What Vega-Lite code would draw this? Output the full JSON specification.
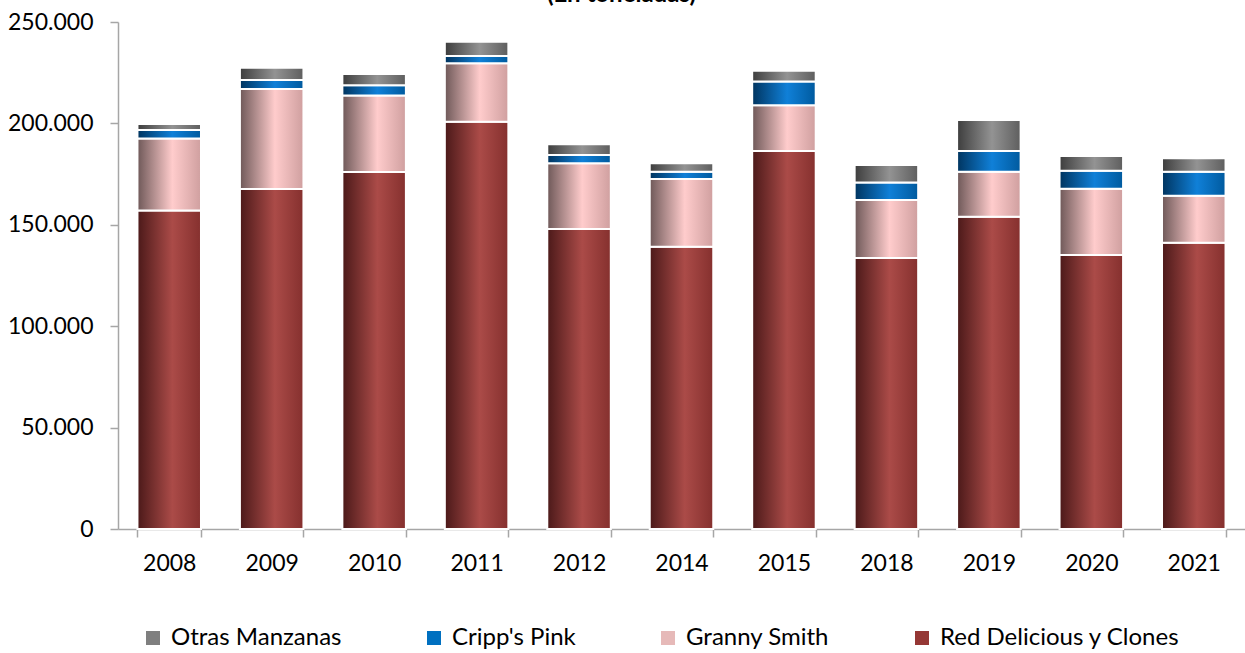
{
  "$schema": "https://vega.github.io/schema/vega-lite/v6.json",
  "width": 1127,
  "height": 507,
  "autosize": {"type": "none"},
  "padding": {"left": 118, "top": 22, "right": 0, "bottom": 124},
  "background": "white",
  "title": {"text": "(En toneladas)", "font": "Lato", "fontSize": 24, "fontWeight": "bold", "anchor": "middle", "dx": -60, "color": "black"},
  "config": {
    "locale": {"number": {"decimal": ",", "thousands": ".", "grouping": [3], "currency": ["", ""]}},
    "view": {"stroke": null},
    "axis": {"labelFont": "Lato", "labelFontSize": 23, "labelColor": "black", "domainColor": "#A6A6A6", "tickColor": "#A6A6A6", "domainWidth": 1.5, "tickWidth": 1.5, "grid": false, "title": null}
  },
  "data": {
    "values": [
      {"anio": "2008", "variedad": "Red Delicious y Clones", "toneladas": 157000},
      {"anio": "2008", "variedad": "Granny Smith", "toneladas": 35500},
      {"anio": "2008", "variedad": "Cripp's Pink", "toneladas": 4200},
      {"anio": "2008", "variedad": "Otras Manzanas", "toneladas": 3000},
      {"anio": "2009", "variedad": "Red Delicious y Clones", "toneladas": 167700},
      {"anio": "2009", "variedad": "Granny Smith", "toneladas": 49300},
      {"anio": "2009", "variedad": "Cripp's Pink", "toneladas": 4400},
      {"anio": "2009", "variedad": "Otras Manzanas", "toneladas": 6100},
      {"anio": "2010", "variedad": "Red Delicious y Clones", "toneladas": 176000},
      {"anio": "2010", "variedad": "Granny Smith", "toneladas": 37700},
      {"anio": "2010", "variedad": "Cripp's Pink", "toneladas": 5100},
      {"anio": "2010", "variedad": "Otras Manzanas", "toneladas": 5600},
      {"anio": "2011", "variedad": "Red Delicious y Clones", "toneladas": 200800},
      {"anio": "2011", "variedad": "Granny Smith", "toneladas": 28800},
      {"anio": "2011", "variedad": "Cripp's Pink", "toneladas": 3600},
      {"anio": "2011", "variedad": "Otras Manzanas", "toneladas": 7100},
      {"anio": "2012", "variedad": "Red Delicious y Clones", "toneladas": 147900},
      {"anio": "2012", "variedad": "Granny Smith", "toneladas": 32400},
      {"anio": "2012", "variedad": "Cripp's Pink", "toneladas": 4100},
      {"anio": "2012", "variedad": "Otras Manzanas", "toneladas": 5300},
      {"anio": "2014", "variedad": "Red Delicious y Clones", "toneladas": 139200},
      {"anio": "2014", "variedad": "Granny Smith", "toneladas": 33400},
      {"anio": "2014", "variedad": "Cripp's Pink", "toneladas": 3600},
      {"anio": "2014", "variedad": "Otras Manzanas", "toneladas": 4100},
      {"anio": "2015", "variedad": "Red Delicious y Clones", "toneladas": 186400},
      {"anio": "2015", "variedad": "Granny Smith", "toneladas": 22500},
      {"anio": "2015", "variedad": "Cripp's Pink", "toneladas": 11700},
      {"anio": "2015", "variedad": "Otras Manzanas", "toneladas": 5400},
      {"anio": "2018", "variedad": "Red Delicious y Clones", "toneladas": 133600},
      {"anio": "2018", "variedad": "Granny Smith", "toneladas": 28600},
      {"anio": "2018", "variedad": "Cripp's Pink", "toneladas": 8600},
      {"anio": "2018", "variedad": "Otras Manzanas", "toneladas": 8700},
      {"anio": "2019", "variedad": "Red Delicious y Clones", "toneladas": 154000},
      {"anio": "2019", "variedad": "Granny Smith", "toneladas": 22200},
      {"anio": "2019", "variedad": "Cripp's Pink", "toneladas": 10200},
      {"anio": "2019", "variedad": "Otras Manzanas", "toneladas": 15300},
      {"anio": "2020", "variedad": "Red Delicious y Clones", "toneladas": 135100},
      {"anio": "2020", "variedad": "Granny Smith", "toneladas": 32700},
      {"anio": "2020", "variedad": "Cripp's Pink", "toneladas": 8900},
      {"anio": "2020", "variedad": "Otras Manzanas", "toneladas": 7200},
      {"anio": "2021", "variedad": "Red Delicious y Clones", "toneladas": 141200},
      {"anio": "2021", "variedad": "Granny Smith", "toneladas": 23100},
      {"anio": "2021", "variedad": "Cripp's Pink", "toneladas": 11900},
      {"anio": "2021", "variedad": "Otras Manzanas", "toneladas": 6600}
    ]
  },
  "transform": [
    {"calculate": "indexof(['Red Delicious y Clones', 'Granny Smith', 'Cripp\\'s Pink', 'Otras Manzanas'], datum.variedad)", "as": "orden"},
    {"stack": "toneladas", "groupby": ["anio"], "sort": [{"field": "orden", "order": "ascending"}], "as": ["y0", "y1"]}
  ],
  "encoding": {
    "x": {"field": "anio", "type": "ordinal", "scale": {"paddingInner": 0.38, "paddingOuter": 0.19},
      "axis": {"labelAngle": 0, "tickBand": "extent", "tickSize": 8, "labelPadding": 15}},
    "y": {"field": "y0", "type": "quantitative", "scale": {"domain": [0, 250000], "nice": false},
      "axis": {"values": [0, 50000, 100000, 150000, 200000, 250000], "format": ",d", "tickSize": 8, "labelPadding": 17}},
    "y2": {"field": "y1"}
  },
  "layer": [
    {
      "mark": {"type": "bar"},
      "encoding": {
        "color": {"field": "variedad", "type": "nominal",
          "scale": {"domain": ["Otras Manzanas", "Cripp's Pink", "Granny Smith", "Red Delicious y Clones"], "range": ["#7F7F7F", "#0070C0", "#E6B9B8", "#953735"]},
          "legend": {"orient": "none", "legendX": 23, "legendY": 604, "direction": "horizontal", "columns": 4, "title": null, "symbolType": "square", "symbolSize": 196, "symbolStrokeWidth": 0, "labelFont": "Lato", "labelFontSize": 24, "labelLimit": 0, "labelColor": "black", "columnPadding": 80, "labelOffset": 6, "padding": 0}}
      }
    },
    {
      "transform": [{"filter": {"field": "variedad", "equal": "Red Delicious y Clones"}}],
      "mark": {"type": "bar", "stroke": "white", "strokeWidth": 2,
        "color": {"gradient": "linear", "x1": 0, "y1": 0, "x2": 1, "y2": 0, "stops": [{"offset": 0, "color": "#4b1919"}, {"offset": 0.55, "color": "#ab4b48"}, {"offset": 1, "color": "#85302e"}]}}
    },
    {
      "transform": [{"filter": {"field": "variedad", "equal": "Granny Smith"}}],
      "mark": {"type": "bar", "stroke": "white", "strokeWidth": 2,
        "color": {"gradient": "linear", "x1": 0, "y1": 0, "x2": 1, "y2": 0, "stops": [{"offset": 0, "color": "#6e5858"}, {"offset": 0.55, "color": "#ffcccc"}, {"offset": 1, "color": "#cf9f9f"}]}}
    },
    {
      "transform": [{"filter": {"field": "variedad", "equal": "Cripp's Pink"}}],
      "mark": {"type": "bar", "stroke": "white", "strokeWidth": 2,
        "color": {"gradient": "linear", "x1": 0, "y1": 0, "x2": 1, "y2": 0, "stops": [{"offset": 0, "color": "#00345f"}, {"offset": 0.55, "color": "#1080d8"}, {"offset": 1, "color": "#005a9e"}]}}
    },
    {
      "transform": [{"filter": {"field": "variedad", "equal": "Otras Manzanas"}}],
      "mark": {"type": "bar", "stroke": "white", "strokeWidth": 2,
        "color": {"gradient": "linear", "x1": 0, "y1": 0, "x2": 1, "y2": 0, "stops": [{"offset": 0, "color": "#3d3d3d"}, {"offset": 0.55, "color": "#939393"}, {"offset": 1, "color": "#5e5e5e"}]}}
    }
  ]
}
